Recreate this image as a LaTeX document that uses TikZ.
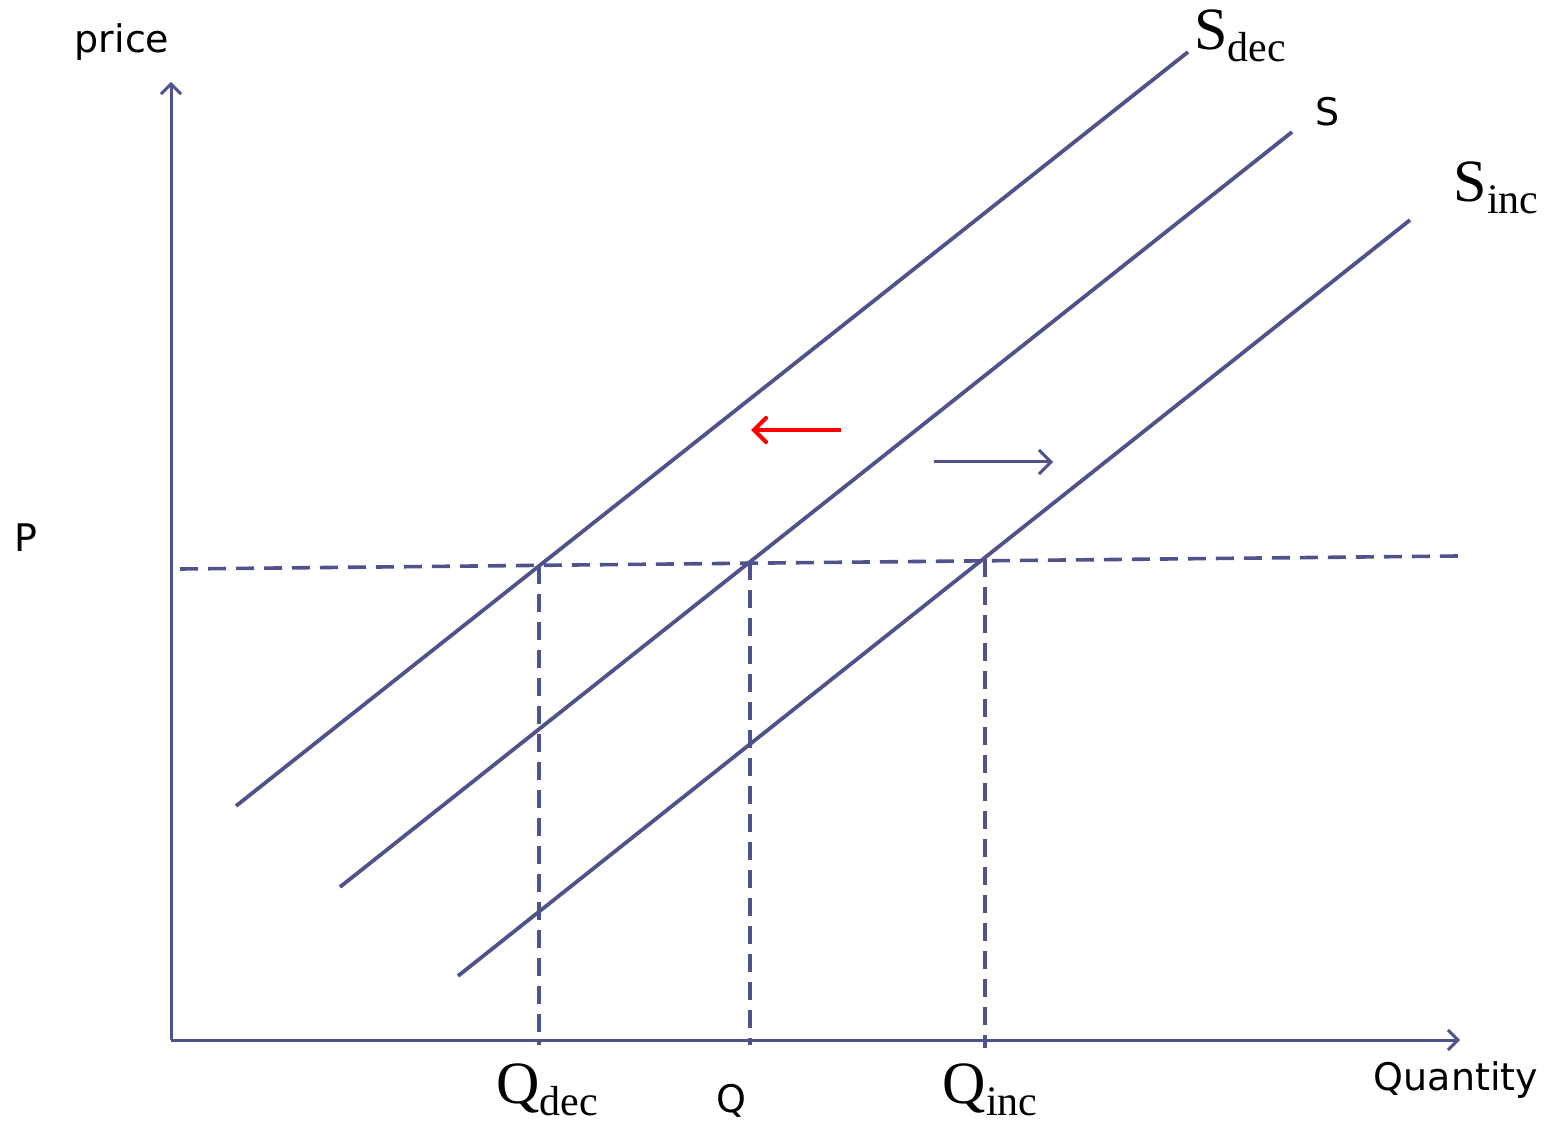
\documentclass[tikz,border=0pt]{standalone}
\usepackage{fontspec}
\newfontfamily\labsans{DejaVu Sans}
\newfontfamily\labserif{Liberation Serif}
\usetikzlibrary{arrows.meta}
\definecolor{axisblue}{RGB}{80,82,140}
\newcommand{\subl}[2]{#1\raisebox{-0.2em}{\fontsize{21}{21}\selectfont #2}}
\tikzset{
  curve/.style={draw=axisblue, line width=1.9pt},
  axisline/.style={draw=axisblue, line width=1.5pt, -{Straight Barb[length=5pt,width=10pt]}},
  guide/.style={draw=axisblue, line width=1.8pt, dash pattern=on 9pt off 5pt},
  sanslab/.style={font=\labsans\fontsize{19}{19}\selectfont, text=black, inner sep=0pt},
  seriflab/.style={font=\labserif\fontsize{30}{30}\selectfont, text=black, inner sep=0pt},
}
\begin{document}
\begin{tikzpicture}[x=0.5pt,y=-0.5pt]
\useasboundingbox (0,0) rectangle (1546,1122);
% axes
\coordinate (O) at (171,1040);
\coordinate (ytop) at (171,82);
\coordinate (xend) at (1460,1040);
\draw[axisline] (O) -- (ytop);
\draw[axisline] (O) -- (xend);
% supply curves
\coordinate (sd1) at (236,806);  \coordinate (sd2) at (1188,52);
\coordinate (s1) at (340,887);   \coordinate (s2) at (1292,132);
\coordinate (si1) at (458,976);  \coordinate (si2) at (1410,220);
\draw[curve] (sd1) -- (sd2);
\draw[curve] (s1) -- (s2);
\draw[curve] (si1) -- (si2);
% price line
\coordinate (pl) at (180,569);
\coordinate (pr) at (1458,556);
\draw[guide] (pl) -- (pr);
% quantity guides
\coordinate (qd) at (539,566);  \coordinate (qdb) at (539,1045);
\coordinate (q) at (750,562);   \coordinate (qb) at (750,1045);
\coordinate (qi) at (985,559);  \coordinate (qib) at (985,1048);
\draw[guide] (qd) -- (qdb);
\draw[guide] (q) -- (qb);
\draw[guide] (qi) -- (qib);
% shift arrows
\coordinate (ra1) at (841,430); \coordinate (ra2) at (751,430);
\draw[draw=red, line width=2.1pt, -{Straight Barb[length=6pt,width=12pt,line cap=round]}] (ra1) -- (ra2);
\coordinate (ba1) at (934,462); \coordinate (ba2) at (1053,462);
\draw[draw=axisblue, line width=1.5pt, -{Straight Barb[length=6pt,width=12pt]}] (ba1) -- (ba2);
% labels
\node[sanslab] (price) at (122,42) {price};
\node[sanslab] (P) at (26,538) {P};
\node[sanslab] (Slab) at (1328,112) {S};
\node[sanslab] (Qlab) at (731,1101) {Q};
\node[sanslab] (Quant) at (1456,1080) {Quantity};
\node[seriflab] (Sdec) at (1240,36) {\subl{S}{dec}};
\node[seriflab] (Sinc) at (1496,188) {\subl{S}{inc}};
\node[seriflab] (Qdec) at (547,1090) {\subl{Q}{dec}};
\node[seriflab] (Qinc) at (990,1090) {\subl{Q}{inc}};
\end{tikzpicture}
\end{document}
